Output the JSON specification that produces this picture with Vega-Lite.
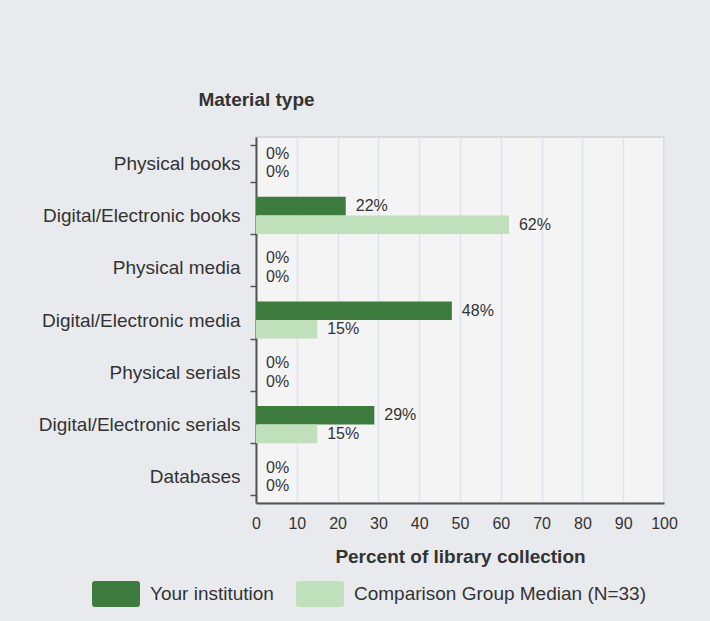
{
  "$schema": "https://vega.github.io/schema/vega-lite/v6.json",
  "width": 408,
  "height": 366,
  "autosize": {"type": "none"},
  "padding": {"left": 256, "top": 137, "right": 46, "bottom": 118},
  "background": "#e9eaee",
  "config": {
    "font": "Liberation Sans",
    "view": {"fill": "#f4f4f5", "stroke": "#d9d9dc", "strokeWidth": 2}
  },
  "data": {
    "values": [
      {"type": "Physical books", "series": "Your institution", "value": 0},
      {"type": "Physical books", "series": "Comparison Group Median (N=33)", "value": 0},
      {"type": "Digital/Electronic books", "series": "Your institution", "value": 22},
      {"type": "Digital/Electronic books", "series": "Comparison Group Median (N=33)", "value": 62},
      {"type": "Physical media", "series": "Your institution", "value": 0},
      {"type": "Physical media", "series": "Comparison Group Median (N=33)", "value": 0},
      {"type": "Digital/Electronic media", "series": "Your institution", "value": 48},
      {"type": "Digital/Electronic media", "series": "Comparison Group Median (N=33)", "value": 15},
      {"type": "Physical serials", "series": "Your institution", "value": 0},
      {"type": "Physical serials", "series": "Comparison Group Median (N=33)", "value": 0},
      {"type": "Digital/Electronic serials", "series": "Your institution", "value": 29},
      {"type": "Digital/Electronic serials", "series": "Comparison Group Median (N=33)", "value": 15},
      {"type": "Databases", "series": "Your institution", "value": 0},
      {"type": "Databases", "series": "Comparison Group Median (N=33)", "value": 0}
    ]
  },
  "transform": [{"calculate": "datum.value + '%'", "as": "label"}],
  "encoding": {
    "y": {
      "field": "type",
      "type": "nominal",
      "sort": ["Physical books", "Digital/Electronic books", "Physical media", "Digital/Electronic media", "Physical serials", "Digital/Electronic serials", "Databases"],
      "scale": {"paddingInner": 0.29, "paddingOuter": 0.145},
      "axis": {
        "title": "Material type",
        "titleAngle": 0,
        "titleX": 0,
        "titleY": -32,
        "titleAlign": "center",
        "titleBaseline": "alphabetic",
        "titleFontSize": 19,
        "titleFontWeight": "bold",
        "titleColor": "#333333",
        "labelFontSize": 19,
        "labelColor": "#333333",
        "labelPadding": 10,
        "labelLimit": 400,
        "domain": true,
        "domainColor": "#555555",
        "domainWidth": 2,
        "ticks": true,
        "tickBand": "extent",
        "tickSize": 6,
        "tickColor": "#555555",
        "tickWidth": 1.5,
        "grid": false
      }
    },
    "yOffset": {
      "field": "series",
      "type": "nominal",
      "sort": ["Your institution", "Comparison Group Median (N=33)"],
      "scale": {"paddingInner": 0}
    },
    "x": {
      "field": "value",
      "type": "quantitative",
      "scale": {"domain": [0, 100], "nice": false},
      "axis": {
        "title": "Percent of library collection",
        "values": [0, 10, 20, 30, 40, 50, 60, 70, 80, 90, 100],
        "grid": true,
        "gridColor": "#dde2ee",
        "gridWidth": 1.5,
        "domain": true,
        "domainColor": "#555555",
        "domainWidth": 2,
        "ticks": false,
        "labelFlush": false,
        "labelPadding": 12,
        "labelFontSize": 16,
        "labelColor": "#333333",
        "titleFontSize": 19,
        "titleFontWeight": "bold",
        "titleColor": "#333333",
        "titlePadding": 16
      }
    }
  },
  "layer": [
    {
      "mark": {"type": "bar"},
      "encoding": {
        "color": {
          "field": "series",
          "type": "nominal",
          "sort": ["Your institution", "Comparison Group Median (N=33)"],
          "scale": {"domain": ["Your institution", "Comparison Group Median (N=33)"], "range": ["#3e7b3e", "#bfe0ba"]},
          "legend": {
            "title": null,
            "orient": "none",
            "direction": "horizontal",
            "legendX": -164,
            "legendY": 433,
            "padding": 0,
            "symbolType": "M-0.88,-0.54H0.88Q1,-0.54,1,-0.42V0.42Q1,0.54,0.88,0.54H-0.88Q-1,0.54,-1,0.42V-0.42Q-1,-0.54,-0.88,-0.54Z",
            "symbolSize": 2304,
            "symbolStrokeWidth": 0,
            "symbolOpacity": 1,
            "labelFontSize": 19,
            "labelColor": "#333333",
            "labelOffset": 10,
            "columnPadding": 22,
            "labelLimit": 400
          }
        }
      }
    },
    {
      "mark": {"type": "text", "align": "left", "baseline": "middle", "dx": 10, "fontSize": 16, "fill": "#333333"},
      "encoding": {
        "text": {"field": "label", "type": "nominal"}
      }
    }
  ]
}
